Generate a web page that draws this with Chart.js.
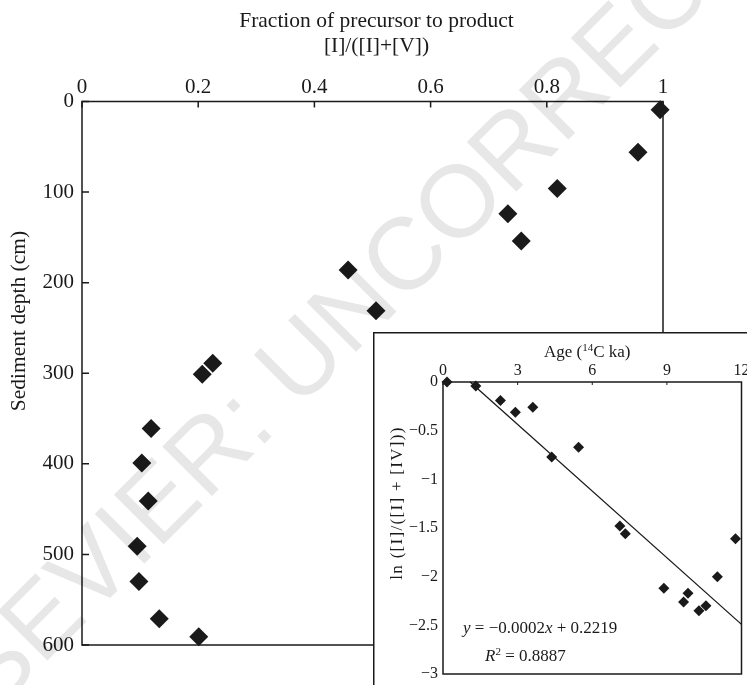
<!DOCTYPE html>
<html>
<head>
<meta charset="utf-8">
<title>Fraction of precursor to product vs sediment depth</title>
<script src="https://cdn.jsdelivr.net/npm/chart.js@4.4.1/dist/chart.umd.min.js"></script>
<style>
  html, body { margin: 0; padding: 0; background: #fff; }
  #page { position: relative; width: 747px; height: 685px; overflow: hidden; }
  #main { position: absolute; left: 0; top: 0; }
  #inset { position: absolute; left: 373px; top: 332px; background: #fff; }
  #mark { position: absolute; left: 0; top: 0; mix-blend-mode: multiply; pointer-events: none; }
</style>
</head>
<body>
<div id="page">
  <canvas id="main" width="747" height="685"></canvas>
  <canvas id="inset" width="374" height="353"></canvas>
  <canvas id="mark" width="747" height="685"></canvas>
</div>
<script>
// main profile: precursor fraction down the core
const fraction = [0.995, 0.957, 0.818, 0.733, 0.756, 0.458, 0.506, 0.225, 0.207, 0.119, 0.103, 0.114, 0.095, 0.098, 0.133, 0.201];
const depth = [9, 56, 96, 124, 154, 186, 231, 289, 301, 361, 399, 441, 491, 530, 571, 591];
const fractionTicks = [0, 0.2, 0.4, 0.6, 0.8, 1];
const depthTicks = [0, 100, 200, 300, 400, 500, 600];
const fractionTitle = ['Fraction of precursor to product', '[I]/([I]+[V])'];
const depthTitle = 'Sediment depth (cm)';

// inset: log ratio against radiocarbon age
const age = [0.16, 1.32, 2.31, 2.91, 3.61, 4.37, 5.45, 7.11, 7.33, 8.88, 9.67, 9.85, 10.29, 10.57, 11.03, 11.76];
const lnRatio = [0, -0.04, -0.19, -0.31, -0.26, -0.77, -0.67, -1.48, -1.56, -2.12, -2.26, -2.17, -2.35, -2.30, -2.00, -1.61];
const fitAge = [1.09, 12];
const fitLn = [0, -2.49];
const ageTicks = [0, 3, 6, 9, 12];
const lnTicks = [0, -0.5, -1, -1.5, -2, -2.5, -3];
const lnTitle = 'ln ([I]/([I] + [IV]))';

const serif = '"Liberation Serif", "Times New Roman", serif';
const ink = '#1a1a1a';
const MINUS = '\u2212';

function pts(xs, ys) { return xs.map((x, i) => ({ x: x, y: ys[i] })); }
function fixTicks(values) { return scale => { scale.ticks = values.map(v => ({ value: v })); }; }

// text made of pieces (italics, superscripts)
function drawRuns(ctx, runs, x, y, align) {
  let total = 0;
  runs.forEach(r => { ctx.font = r[1]; total += ctx.measureText(r[0]).width; });
  let cx = align === 'center' ? x - total / 2 : x;
  ctx.textAlign = 'left';
  runs.forEach(r => {
    ctx.font = r[1];
    ctx.fillText(r[0], cx, y + (r[2] || 0));
    cx += ctx.measureText(r[0]).width;
  });
}

const mainFrame = {
  id: 'mainFrame',
  beforeDatasetsDraw(chart) {
    const { ctx, chartArea: a, scales: { x, y } } = chart;
    ctx.save();
    ctx.strokeStyle = ink;
    ctx.lineWidth = 1.5;
    ctx.strokeRect(a.left, a.top, a.right - a.left, a.bottom - a.top);
    ctx.beginPath();
    fractionTicks.forEach(v => {
      const px = x.getPixelForValue(v);
      ctx.moveTo(px, a.top); ctx.lineTo(px, a.top + 6);
    });
    depthTicks.forEach(v => {
      const py = y.getPixelForValue(v);
      ctx.moveTo(a.left, py); ctx.lineTo(a.left + 7, py);
    });
    ctx.stroke();

    ctx.fillStyle = ink;
    ctx.textAlign = 'center';
    ctx.textBaseline = 'middle';
    ctx.font = '21.5px ' + serif;
    const cx = (a.left + a.right) / 2 + 4;
    ctx.fillText(fractionTitle[0], cx, 21);
    ctx.fillText(fractionTitle[1], cx, 46);
    ctx.translate(19, 321);
    ctx.rotate(-Math.PI / 2);
    ctx.fillText(depthTitle, 0, 0);
    ctx.restore();
  }
};

const insetFrame = {
  id: 'insetFrame',
  beforeDraw(chart) {
    const { ctx, width, height } = chart;
    ctx.save();
    ctx.fillStyle = '#fff';
    ctx.fillRect(0, 0, width, height);
    ctx.restore();
  },
  beforeDatasetsDraw(chart) {
    const { ctx, chartArea: a, scales: { x }, width, height } = chart;
    ctx.save();
    ctx.strokeStyle = ink;
    ctx.lineWidth = 1.5;
    // outer box of the inset, only its left and top edges are on the page
    ctx.beginPath();
    ctx.moveTo(0.75, height); ctx.lineTo(0.75, 0.75); ctx.lineTo(width, 0.75);
    ctx.stroke();
    ctx.strokeRect(a.left, a.top, a.right - a.left, a.bottom - a.top);
    ctx.lineWidth = 1;
    ctx.beginPath();
    ageTicks.forEach(v => {
      const px = x.getPixelForValue(v);
      ctx.moveTo(px, a.top); ctx.lineTo(px, a.top + 3);
    });
    ctx.stroke();

    const f = '17px ' + serif, fi = 'italic 17px ' + serif, fs = '11px ' + serif;
    ctx.fillStyle = ink;
    ctx.textBaseline = 'middle';
    drawRuns(ctx, [['Age (', f], ['14', fs, -5], ['C ka)', f]], (a.left + a.right) / 2 - 5, 21, 'center');
    drawRuns(ctx, [['y', fi], [' = ' + MINUS + '0.0002', f], ['x', fi], [' + 0.2219', f]], 90, 297, 'left');
    drawRuns(ctx, [['R', fi], ['2', fs, -5], [' = 0.8887', f]], 112, 325, 'left');

    ctx.translate(25, 171);
    ctx.rotate(-Math.PI / 2);
    ctx.font = f;
    ctx.letterSpacing = '1.3px';
    ctx.textAlign = 'center';
    ctx.fillText(lnTitle, 0, 0);
    ctx.restore();
  }
};

new Chart(document.getElementById('main'), {
  type: 'scatter',
  data: {
    datasets: [{
      data: pts(fraction, depth),
      pointStyle: 'rectRot',
      pointRadius: 9.5,
      pointHoverRadius: 9.5,
      backgroundColor: ink,
      borderWidth: 0,
      clip: false
    }]
  },
  options: {
    responsive: false,
    animation: false,
    events: [],
    layout: { padding: { top: 0, left: 0, right: 84, bottom: 40 } },
    plugins: { legend: { display: false }, tooltip: { enabled: false } },
    scales: {
      x: {
        type: 'linear', position: 'top', min: 0, max: 1,
        afterBuildTicks: fixTicks(fractionTicks),
        afterFit: s => { s.height = 101.5; s.paddingLeft = 0; s.paddingRight = 0; },
        grid: { display: false, drawTicks: false },
        border: { display: false },
        ticks: {
          font: { family: serif, size: 21, lineHeight: 1.2 }, color: ink, padding: 1, maxRotation: 0, autoSkip: false,
          callback: v => String(v)
        }
      },
      y: {
        type: 'linear', reverse: true, min: 0, max: 600,
        afterBuildTicks: fixTicks(depthTicks),
        afterFit: s => { s.width = 82; s.paddingTop = 0; s.paddingBottom = 0; },
        grid: { display: false, drawTicks: false },
        border: { display: false },
        ticks: { font: { family: serif, size: 21, lineHeight: 1.2 }, color: ink, padding: 8, autoSkip: false }
      }
    }
  },
  plugins: [mainFrame]
});

new Chart(document.getElementById('inset'), {
  type: 'scatter',
  data: {
    datasets: [{
      data: pts(age, lnRatio),
      pointStyle: 'rectRot',
      pointRadius: 5.5,
      pointHoverRadius: 5.5,
      backgroundColor: ink,
      borderWidth: 0,
      clip: false
    }, {
      data: pts(fitAge, fitLn),
      showLine: true,
      pointRadius: 0,
      borderColor: ink,
      borderWidth: 1.3,
      clip: false
    }]
  },
  options: {
    responsive: false,
    animation: false,
    events: [],
    layout: { padding: { top: 0, left: 0, right: 4, bottom: 11 } },
    plugins: { legend: { display: false }, tooltip: { enabled: false } },
    scales: {
      x: {
        type: 'linear', position: 'top', min: 0, max: 12,
        afterBuildTicks: fixTicks(ageTicks),
        afterFit: s => { s.height = 50; s.paddingLeft = 0; s.paddingRight = 0; },
        grid: { display: false, drawTicks: false },
        border: { display: false },
        ticks: {
          font: { family: serif, size: 16, lineHeight: 1.2 }, color: ink, padding: 1.4, maxRotation: 0, autoSkip: false,
          callback: v => String(v)
        }
      },
      y: {
        type: 'linear', min: -3, max: 0,
        afterBuildTicks: fixTicks(lnTicks),
        afterFit: s => { s.width = 70; s.paddingTop = 0; s.paddingBottom = 0; },
        grid: { display: false, drawTicks: false },
        border: { display: false },
        ticks: {
          font: { family: serif, size: 16, lineHeight: 1.2 }, color: ink, padding: 5, autoSkip: false,
          callback: v => v < 0 ? MINUS + Math.abs(v) : String(v)
        }
      }
    }
  },
  plugins: [insetFrame]
});

// proof watermark laid over the figure
(function () {
  const c = document.getElementById('mark');
  const ctx = c.getContext('2d');
  const text = 'ELSEVIER: UNCORRECTED PROOF';
  ctx.font = '102px "Liberation Sans", sans-serif';
  ctx.fillStyle = '#e7e7e7';
  const pre = ctx.measureText('ELSEVIER').width + ctx.measureText(':').width / 2;
  const ang = -Math.PI / 4;
  ctx.translate(268 - pre * Math.cos(ang), 440 - pre * Math.sin(ang));
  ctx.rotate(ang);
  ctx.fillText(text, 0, 0);
})();
</script>
</body>
</html>
